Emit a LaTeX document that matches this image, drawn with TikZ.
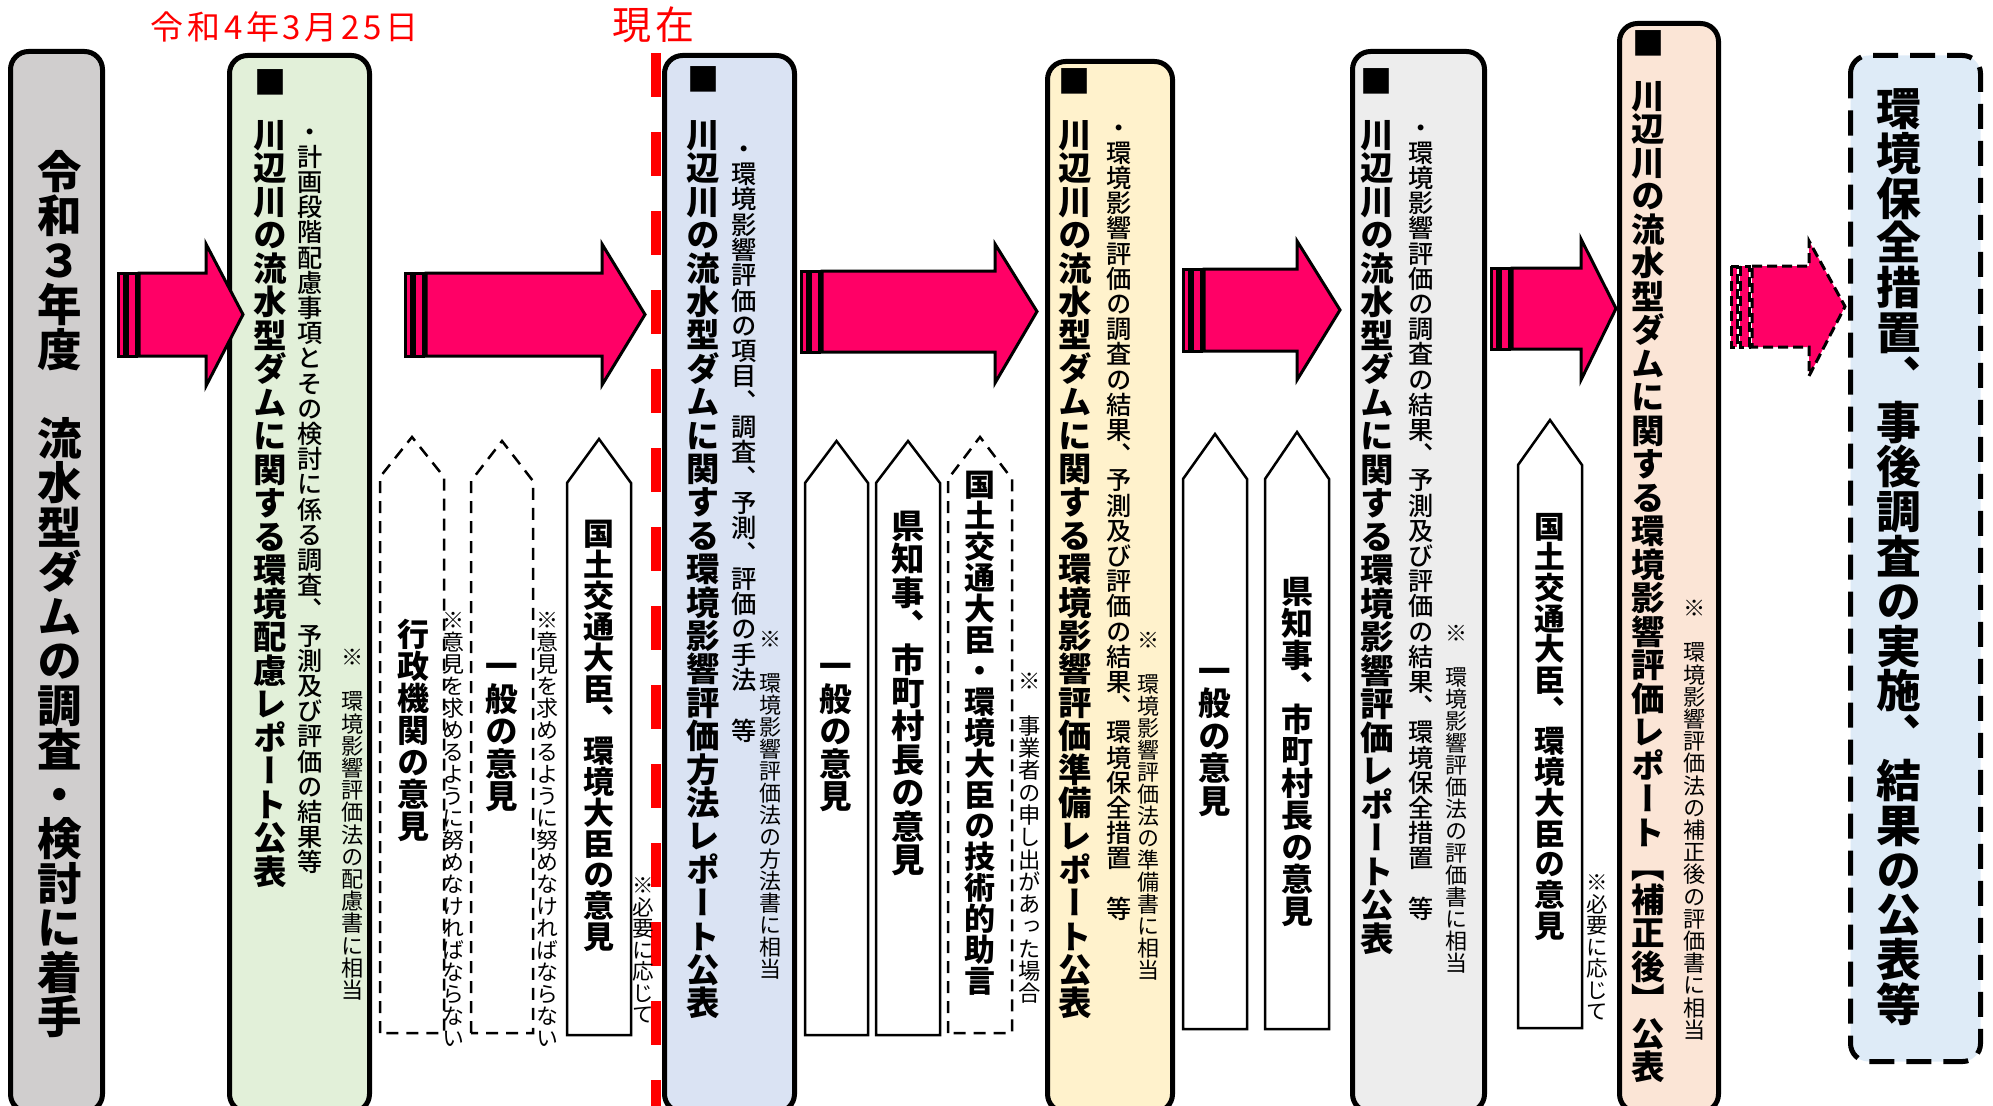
\documentclass[tikz,border=0pt]{standalone}
\usepackage{fontspec}
\setmainfont{Noto Sans CJK JP}
\newfontfamily\jp{Noto Sans CJK JP}
\newfontfamily\redjp[LetterSpace=11]{Noto Sans CJK JP}
\newfontfamily\vjp[RawFeature={+vert}]{Noto Sans CJK JP}
\newfontfamily\vjpm[RawFeature={+vert}]{Noto Sans CJK JP Medium}
\definecolor{cgray}{HTML}{D0CECE}
\definecolor{cgreen}{HTML}{E2F0D9}
\definecolor{cblue}{HTML}{DAE3F3}
\definecolor{cyell}{HTML}{FFF2CC}
\definecolor{clgray}{HTML}{EDEDED}
\definecolor{cpeach}{HTML}{FBE5D6}
\definecolor{csky}{HTML}{DEEBF7}
\definecolor{cmag}{HTML}{FF0066}
\ExplSyntaxOn
\NewDocumentCommand \vtxt { m }
  {
    \vbox:n
      {
        \skip_set:Nn \baselineskip { 1em }
        \dim_set:Nn \lineskiplimit { -\c_max_dim }
        \tl_map_inline:nn {#1}
          {
            \hbox_to_wd:nn { 1em } { \hfil \vrule height .88em depth .12em width 0pt ##1 \hfil }
          }
      }
  }
\ExplSyntaxOff
\newcommand{\stripearrow}[8]{%
  \draw[#1] (#2,#5) rectangle (#2+6,#6);
  \draw[#1] (#2+9,#5) rectangle (#2+18,#6);
  \draw[#1] (#2+21,#5) -- (#3,#5) -- (#3,#7) -- (#4,{(#5+#6)/2}) -- (#3,#8) -- (#3,#6) -- (#2+21,#6) -- cycle;
}
\begin{document}
\begin{tikzpicture}[x=1pt,y=-1pt,
  box/.style={draw=black, line width=5pt, rounded corners=18pt},
  pent/.style={draw=black, line width=2.5pt, fill=white, line join=miter},
  dpent/.style={pent, dash pattern=on 12pt off 8pt},
  arr/.style={draw=black, fill=cmag, line width=3pt, line join=miter},
  darr/.style={arr, dash pattern=on 10pt off 5pt},
  vt/.style={anchor=north, inner sep=0pt, outer sep=0pt},
  big/.style={vt, font=\vjp\bfseries\fontsize{#1}{#1}\selectfont},
  ttl/.style={vt, font=\vjp\bfseries\fontsize{#1}{#1}\selectfont},
  itm/.style={vt, font=\vjpm\fontsize{#1}{#1}\selectfont},
  nte/.style={vt, font=\vjp\fontsize{#1}{#1}\selectfont},
  lbl/.style={vt, font=\vjp\bfseries\fontsize{#1}{#1}\selectfont},
  sq/.style={inner sep=0pt, font=\jp\fontsize{32}{32}\selectfont},
  redt/.style={inner sep=0pt, text=red, font=\redjp\fontsize{#1}{#1}\selectfont}
]
\useasboundingbox (0,0) rectangle (1993,1105);
\clip (0,0) rectangle (1993,1105);

% main boxes
\draw[box, fill=cgray]  (10.5,51.5) rectangle (102.5,1112);
\draw[box, fill=cgreen] (229.5,55.5) rectangle (369.5,1112);
\draw[box, fill=cblue]  (664.5,55.5) rectangle (794.5,1112);
\draw[box, fill=cyell]  (1047.5,61.5) rectangle (1172.5,1112);
\draw[box, fill=clgray] (1352.5,51.5) rectangle (1484.5,1112);
\draw[box, fill=cpeach] (1619.5,23.5) rectangle (1718.5,1112);
\draw[box, fill=csky, dash pattern=on 25pt off 12pt] (1850.5,55.5) rectangle (1980.5,1061.5);

% "now" line
\coordinate (nowtop) at (656,53);
\coordinate (nowbot) at (656,1110);
\draw[red, line width=10pt, dash pattern=on 44pt off 35pt] (nowtop) -- (nowbot);

% pentagon arrows
\draw[dpent] (380,1033) -- (380,477) -- (412,437) -- (444,477) -- (444,1033) -- cycle;
\draw[dpent] (471,1033) -- (471,481) -- (502,441) -- (533,481) -- (533,1033) -- cycle;
\draw[pent]  (567,1035) -- (567,483) -- (599,439) -- (631,483) -- (631,1035) -- cycle;
\draw[pent]  (805,1035) -- (805,483) -- (836.5,441) -- (868,483) -- (868,1035) -- cycle;
\draw[pent]  (876,1035) -- (876,483) -- (908,441) -- (940,483) -- (940,1035) -- cycle;
\draw[dpent] (948,1033) -- (948,479) -- (980,437) -- (1012,479) -- (1012,1033) -- cycle;
\draw[pent]  (1183,1029) -- (1183,479) -- (1215,434) -- (1247,479) -- (1247,1029) -- cycle;
\draw[pent]  (1265,1029) -- (1265,479) -- (1297,432) -- (1329,479) -- (1329,1029) -- cycle;
\draw[pent]  (1518,1028) -- (1518,465) -- (1550,420) -- (1582,465) -- (1582,1028) -- cycle;

% block arrows
\stripearrow{arr}{118}{206}{243}{273}{356}{244}{386}
\stripearrow{arr}{405}{602}{645}{273}{356}{244}{385}
\stripearrow{arr}{801}{995}{1037}{271}{352}{244}{383}
\stripearrow{arr}{1183}{1297}{1340}{269}{351}{241}{380}
\stripearrow{arr}{1491}{1581}{1616}{268}{349}{239}{380}
\stripearrow{darr}{1731}{1809}{1845}{266}{347}{241}{376}

% red labels
\node[redt=33] (date) at (284.5,26.5) {令和4年3月25日};
\node[redt=39] (now) at (653.5,25) {現在};

% box 1
\node[big=44.5] (b1t) at (60,149) {\vtxt{令和３年度　流水型ダムの調査・検討に着手}};

% box 2
\node[sq] (b2s) at (270,82.5) {■};
\node[ttl=33.5] (b2t) at (270,118) {\vtxt{川辺川の流水型ダムに関する環境配慮レポート公表}};
\node[itm=25.2] (b2i) at (310,119) {\vtxt{・計画段階配慮事項とその検討に係る調査、予測及び評価の結果等}};
\node[nte=22.2] (b2n) at (353,646) {\vtxt{※　環境影響評価法の配慮書に相当}};

% pentagons 1-3
\node[lbl=32] (p1t) at (413,618) {\vtxt{行政機関の意見}};
\node[nte=22] (p1n) at (453,609) {\vtxt{※意見を求めるように努めなければならない}};
\node[lbl=32.5] (p2t) at (502,650) {\vtxt{一般の意見}};
\node[nte=22] (p2n) at (547,609) {\vtxt{※意見を求めるように努めなければならない}};
\node[lbl=31] (p3t) at (599,518) {\vtxt{国土交通大臣、環境大臣の意見}};
\node[nte=21.5] (p3n) at (643,875) {\vtxt{※必要に応じて}};

% box 3
\node[sq] (b3s) at (703,79.5) {■};
\node[ttl=33.4] (b3t) at (703,118) {\vtxt{川辺川の流水型ダムに関する環境影響評価方法レポート公表}};
\node[itm=25.3] (b3i) at (744,136) {\vtxt{・環境影響評価の項目、調査、予測、評価の手法　等}};
\node[nte=22] (b3n) at (770,628) {\vtxt{※　環境影響評価法の方法書に相当}};

% pentagons 4-6
\node[lbl=32.5] (p4t) at (836,650) {\vtxt{一般の意見}};
\node[lbl=33.4] (p5t) at (908,509) {\vtxt{県知事、市町村長の意見}};
\node[lbl=31] (p6t) at (980,469) {\vtxt{国土交通大臣・環境大臣の技術的助言}};
\node[nte=22.3] (p6n) at (1030,670) {\vtxt{※　事業者の申し出があった場合}};

% box 4
\node[sq] (b4s) at (1074.5,81) {■};
\node[ttl=33.4] (b4t) at (1075,118) {\vtxt{川辺川の流水型ダムに関する環境影響評価準備レポート公表}};
\node[itm=25.2] (b4i) at (1119,115) {\vtxt{・環境影響評価の調査の結果、予測及び評価の結果、環境保全措置　等}};
\node[nte=22] (b4n) at (1148,629) {\vtxt{※　環境影響評価法の準備書に相当}};

% pentagons 7-8
\node[lbl=32.4] (p7t) at (1215,655) {\vtxt{一般の意見}};
\node[lbl=32] (p8t) at (1297,575) {\vtxt{県知事、市町村長の意見}};

% box 5
\node[sq] (b5s) at (1376.5,81.5) {■};
\node[ttl=33.5] (b5t) at (1377,118) {\vtxt{川辺川の流水型ダムに関する環境影響評価レポート公表}};
\node[itm=25.2] (b5i) at (1421,115) {\vtxt{・環境影響評価の調査の結果、予測及び評価の結果、環境保全措置　等}};
\node[nte=22] (b5n) at (1456,622) {\vtxt{※　環境影響評価法の評価書に相当}};

% pentagon 9
\node[lbl=30.7] (p9t) at (1550,511) {\vtxt{国土交通大臣、環境大臣の意見}};
\node[nte=21.5] (p9n) at (1597,872) {\vtxt{※必要に応じて}};

% box 6
\node[sq] (b6s) at (1648,43.5) {■};
\node[ttl=33.5] (b6t) at (1648,79) {\vtxt{川辺川の流水型ダムに関する環境影響評価レポート【補正後】公表}};
\node[nte=22.2] (b6n) at (1695,597) {\vtxt{※　環境影響評価法の補正後の評価書に相当}};

% box 7
\node[big=44.8] (b7t) at (1899,86) {\vtxt{環境保全措置、事後調査の実施、結果の公表等}};
\end{tikzpicture}
\end{document}
